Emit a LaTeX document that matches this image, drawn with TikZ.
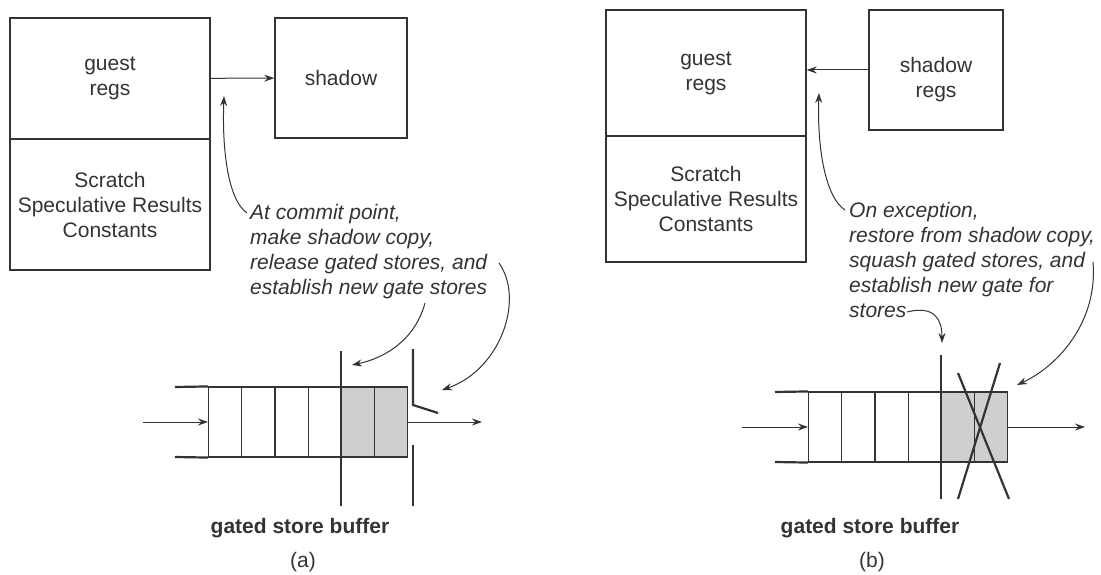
\documentclass[tikz,border=0pt]{standalone}
\usepackage{fontspec}
\setmainfont{Liberation Sans}
\usetikzlibrary{arrows.meta}
\definecolor{ink}{HTML}{333333}
\definecolor{shade}{HTML}{CFCFCF}
\tikzset{
  regbox/.style={draw=ink, line width=1.4pt, rectangle, inner sep=0pt, align=center, text=ink, font=\fontsize{21}{25}\selectfont},
  note/.style={align=left, inner sep=0pt, anchor=north west, text=ink, font=\fontsize{21}{25}\selectfont\itshape},
  caption/.style={inner sep=0pt, text=ink, font=\fontsize{21}{25}\selectfont},
  tip/.style={-{Stealth[length=10pt,width=7pt]}, draw=ink, line width=1pt},
  cell/.style={draw=ink, line width=1.1pt, rectangle, anchor=west, minimum width=33.2pt, minimum height=70pt, inner sep=0pt},
  rail/.style={draw=ink, line width=2.2pt},
  gate/.style={draw=ink, line width=2.2pt},
}
\begin{document}
\begin{tikzpicture}[x=1pt,y=-1pt]
\useasboundingbox (0,0) rectangle (1101,575);

\node[regbox, minimum width=200pt, minimum height=121pt] (guestA) at (110,78.5) {guest\\regs};
\node[regbox, minimum width=200pt, minimum height=131pt] (scratchA) at (110,204.5) {Scratch\\Speculative Results\\Constants};
\node[regbox, minimum width=132pt, minimum height=120pt] (shadowA) at (341,78) {shadow};
\draw[tip] (guestA) -- (shadowA);

\node[note] (noteA) at (250,204) {At commit point,\\make shadow copy,\\release gated stores, and\\establish new gate stores};

\foreach \i/\c in {1/white,2/white,3/white,4/white,5/shade,6/shade}
  \node[cell, fill=\c] (a\i) at ({208+33.2*(\i-1)},422) {};
\draw[rail] (175,387) -- (a1.north west);
\draw[rail] (175,457) -- (a1.south west);
\coordinate (inA) at (143,422);
\coordinate (outA) at (482,422);
\draw[tip] (inA) -- (a1.west);
\draw[tip] (a6.east) -- (outA);
\draw[gate] (a5.west |- 0,351) -- (a5.west |- 0,506);
\draw[gate] (413,349) -- (413,405) -- (438,413);
\draw[gate] (413,445) -- (413,506);

\coordinate (tipA1) at (224,96);
\coordinate (tipA2) at (352,365);
\coordinate (tipA3) at (442,390);
\draw[tip] (247,213) .. controls (228,200) and (222,150) .. (tipA1);
\draw[tip] (425,303) .. controls (415,340) and (385,358) .. (tipA2);
\draw[tip] (499,263) .. controls (525,300) and (500,370) .. (tipA3);

\node[caption, font=\fontsize{21}{25}\selectfont\bfseries] (bufA) at (300,528) {gated store buffer};
\node[caption] (subA) at (303,562) {(a)};

\node[regbox, minimum width=200pt, minimum height=126pt] (guestB) at (706,73) {guest\\regs};
\node[regbox, minimum width=200pt, minimum height=126pt] (scratchB) at (706,199) {Scratch\\Speculative Results\\Constants};
\node[regbox, minimum width=134pt, minimum height=120pt,
  label={[caption, align=center, yshift=-10pt]center:shadow\\regs}] (shadowB) at (936,70) {};
\draw[tip] (shadowB.west) -- (shadowB.west -| guestB.east);

\node[note] (noteB) at (849,202) {On exception,\\restore from shadow copy,\\squash gated stores, and\\establish new gate for\\stores};

\foreach \i/\c in {1/white,2/white,3/white,4/white,5/shade,6/shade}
  \node[cell, fill=\c] (b\i) at ({808+33.2*(\i-1)},427) {};
\draw[rail] (775,392) -- (b1.north west);
\draw[rail] (775,462) -- (b1.south west);
\coordinate (inB) at (742,427);
\coordinate (outB) at (1085,427);
\draw[tip] (inB) -- (b1.west);
\draw[tip] (b6.east) -- (outB);
\draw[gate] (b5.west |- 0,355) -- (b5.west |- 0,499);
\draw[gate] (958,373) -- (1009,499);
\draw[gate] (1000,363) -- (958,499);

\coordinate (tipB1) at (819,93);
\coordinate (tipB2) at (942,343);
\coordinate (tipB3) at (1017,385);
\draw[tip] (845,210) .. controls (826,198) and (817,150) .. (tipB1);
\draw[tip] (907,312) .. controls (935,305) and (942,320) .. (tipB2);
\draw[tip] (1093,262) .. controls (1098,320) and (1060,365) .. (tipB3);

\node[caption, font=\fontsize{21}{25}\selectfont\bfseries] (bufB) at (870,528) {gated store buffer};
\node[caption] (subB) at (872,562) {(b)};
\end{tikzpicture}
\end{document}
